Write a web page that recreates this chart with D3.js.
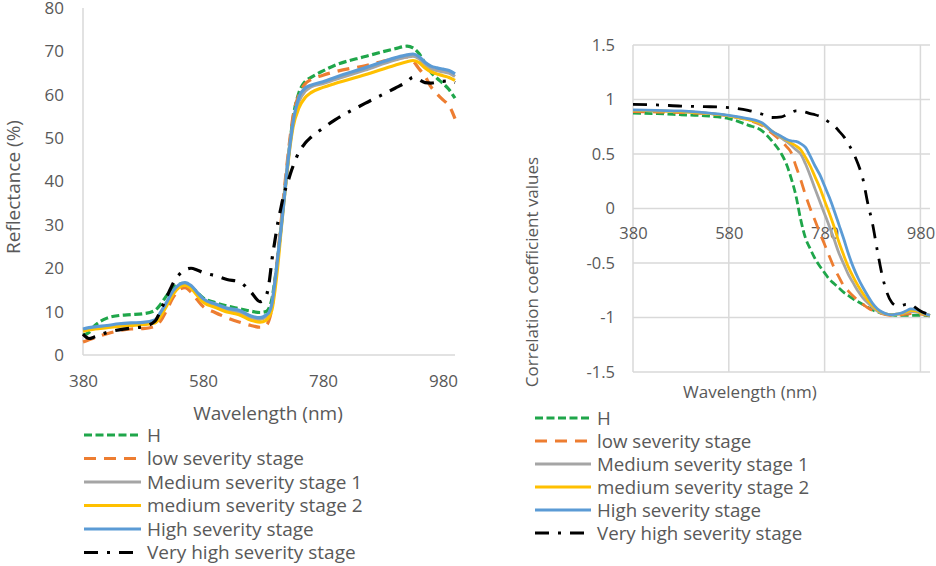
<!DOCTYPE html>
<html>

<head>
  <title>Reflectance and correlation</title>
  <script src="https://d3js.org/d3.v7.min.js"></script>
  <style>
    body {
      margin: 0;
      background: #ffffff;
    }

    text {
      font-family: "Open Sans", sans-serif;
      fill: #595959;
    }
  </style>
</head>

<body>
  <svg id="chart"></svg>
  <script>
    // series order: H, low, Medium 1, medium 2, High, Very high
    const seriesNames = ["H", "low severity stage", "Medium severity stage 1", "medium severity stage 2",
      "High severity stage", "Very high severity stage"]
    const seriesColors = ["#1fa64a", "#ed7d31", "#a5a5a5", "#ffc000", "#5b9bd5", "#000000"]
    const seriesDash = ["8,3.5", "12,8", null, null, null, "14,9,3,9"]

    const xTicks = [380, 580, 780, 980]
    const reflTicks = [0, 10, 20, 30, 40, 50, 60, 70, 80]
    const corrTicks = [-1.5, -1, -0.5, 0, 0.5, 1, 1.5]

    // left chart: reflectance (%)
    const wlRefl = [380, 390, 400, 420, 440, 460, 480, 500, 510, 520, 530, 540, 550, 560, 570, 580, 600, 620, 640, 660,
      675, 685, 690, 695, 700, 705, 710, 715, 720, 725, 730, 740, 750, 760, 780, 800, 850, 900, 920, 930, 940, 950, 960,
      970, 980, 990, 1000]
    const reflH = [4.6, 5.2, 6.8, 8.5, 9.1, 9.3, 9.5, 10.3, 11.8, 13.8, 15.6, 16.3, 16.5, 15.8, 14.5, 13.2, 12.1, 11.3,
      10.7, 10.1, 9.8, 10.0, 10.8, 13, 17.5, 23, 29.5, 36, 42.5, 49, 54.5, 60.5, 63, 64, 65.5, 66.8, 68.8, 70.6, 71.2,
      70.8, 69.5, 67.3, 65.2, 63.8, 62.6, 61.2, 59.2]
    const reflLow = [3.0, 3.5, 4.0, 4.9, 5.6, 6.0, 6.1, 6.6, 8.0, 10.5, 13.2, 15.0, 15.5, 14.5, 12.8, 11.2, 9.8, 8.6, 7.6,
      6.8, 6.4, 6.8, 8.0, 11, 17, 23.5, 30.5, 37.5, 44, 50, 55, 60, 62.5, 63.5, 64.5, 65.3, 66.7, 68.3, 68.7, 67.8, 66.0,
      64.3, 61.8, 60.2, 58.8, 57.5, 54.5]
    const reflMed1 = [5.8, 6.0, 6.3, 6.6, 7.0, 7.2, 7.3, 7.8, 9.6, 12, 14.5, 16, 16.4, 15.7, 14.2, 12.6, 11.4, 10.4, 9.9,
      8.6, 8.2, 8.8, 9.5, 11.2, 16.5, 22.5, 29.5, 36.5, 43, 49, 53.5, 58.5, 60.8, 61.8, 62.6, 63.5, 65.7, 68, 68.7, 68.9,
      68.3, 67, 66, 65.6, 65.3, 65, 64.2]
    const reflMed2 = [5.5, 5.8, 6.0, 6.3, 6.6, 6.8, 7.0, 7.4, 9.0, 11.5, 14.0, 15.6, 16.1, 15.4, 13.8, 12.2, 11.0, 9.9,
      9.3, 8.0, 7.6, 8.0, 8.8, 10.5, 15, 21, 28.5, 35.5, 42, 48, 52.5, 57, 59.3, 60.5, 61.7, 62.6, 64.6, 66.8, 67.6, 67.9,
      67.4, 66.2, 65.3, 64.8, 64.4, 64, 63.3]
    const reflHigh = [6.0, 6.3, 6.5, 6.8, 7.2, 7.4, 7.5, 8.1, 10.0, 12.3, 14.8, 16.2, 16.7, 16.0, 14.5, 13.0, 11.8, 10.8,
      10.3, 9.0, 8.6, 9.2, 9.8, 12, 17, 23, 29, 35.5, 42.5, 48.5, 53.5, 59.5, 61.5, 62.2, 63, 64, 66.2, 68.5, 69.2, 69.4,
      68.8, 67.5, 66.6, 66.2, 65.9, 65.6, 64.8]
    const reflVeryHigh = [4.8, 3.8, 4.2, 5.2, 5.8, 6.2, 6.5, 7.8, 10.5, 13.5, 16.5, 18.5, 19.6, 20.0, 19.6, 19.0, 18.3,
      17.4, 16.9, 14.5, 12.3, 13.5, 16.5, 22, 26.5, 30.7, 34, 37.2, 39.2, 41.5, 43.5, 46.8, 48.8, 50.2, 52.3, 54.2, 58,
      61.5, 63, 64, 63.5, 62.8, 62.7, 62.9, 63.1, 63.2, 62.8]

    // right chart: correlation coefficient values
    const wlCorr = [380, 430, 480, 530, 580, 620, 650, 670, 690, 700, 710, 720, 730, 740, 750, 760, 770, 780, 790, 800,
      810, 820, 830, 840, 850, 860, 870, 880, 890, 900, 910, 920, 930, 940, 950, 960, 970, 980, 990, 1000]
    const corrH = [0.875, 0.87, 0.86, 0.85, 0.825, 0.765, 0.71, 0.62, 0.5, 0.41, 0.28, 0.12, -0.1, -0.27, -0.37, -0.46,
      -0.53, -0.59, -0.65, -0.69, -0.73, -0.77, -0.8, -0.83, -0.855, -0.88, -0.905, -0.93, -0.95, -0.96, -0.97, -0.975,
      -0.98, -0.98, -0.98, -0.98, -0.98, -0.98, -0.98, -0.985]
    const corrLow = [0.89, 0.885, 0.88, 0.87, 0.85, 0.81, 0.76, 0.69, 0.615, 0.57, 0.515, 0.39, 0.265, 0.125, 0.0, -0.11,
      -0.225, -0.33, -0.44, -0.545, -0.63, -0.71, -0.76, -0.805, -0.845, -0.88, -0.91, -0.935, -0.95, -0.965, -0.975,
      -0.98, -0.98, -0.975, -0.97, -0.965, -0.965, -0.97, -0.975, -0.98]
    const corrMed1 = [0.9, 0.895, 0.89, 0.875, 0.85, 0.815, 0.77, 0.705, 0.645, 0.615, 0.58, 0.54, 0.5, 0.41, 0.3, 0.18,
      0.065, -0.05, -0.165, -0.285, -0.41, -0.51, -0.61, -0.685, -0.76, -0.82, -0.865, -0.905, -0.94, -0.96, -0.97,
      -0.975, -0.97, -0.965, -0.955, -0.945, -0.95, -0.96, -0.97, -0.98]
    const corrMed2 = [0.9, 0.895, 0.89, 0.875, 0.85, 0.815, 0.775, 0.71, 0.655, 0.63, 0.6, 0.575, 0.54, 0.47, 0.39, 0.29,
      0.19, 0.07, -0.045, -0.17, -0.31, -0.43, -0.54, -0.63, -0.71, -0.78, -0.84, -0.89, -0.93, -0.955, -0.97, -0.975,
      -0.97, -0.965, -0.95, -0.935, -0.94, -0.955, -0.97, -0.98]
    const corrHigh = [0.905, 0.9, 0.895, 0.88, 0.855, 0.825, 0.785, 0.71, 0.66, 0.635, 0.62, 0.615, 0.595, 0.56, 0.48,
      0.39, 0.31, 0.206, 0.1, -0.02, -0.15, -0.28, -0.42, -0.54, -0.64, -0.725, -0.8, -0.87, -0.92, -0.95, -0.97, -0.975,
      -0.97, -0.96, -0.94, -0.92, -0.925, -0.945, -0.965, -0.98]
    const corrVeryHigh = [0.955, 0.95, 0.94, 0.935, 0.925, 0.9, 0.865, 0.835, 0.84, 0.86, 0.88, 0.895, 0.895, 0.885,
      0.87, 0.86, 0.845, 0.82, 0.79, 0.76, 0.71, 0.66, 0.59, 0.51, 0.405, 0.27, 0.05, -0.14, -0.385, -0.61, -0.77, -0.86,
      -0.89, -0.89, -0.88, -0.88, -0.91, -0.94, -0.96, -0.97]

    const reflSeries = [reflH, reflLow, reflMed1, reflMed2, reflHigh, reflVeryHigh]
    const corrSeries = [corrH, corrLow, corrMed1, corrMed2, corrHigh, corrVeryHigh]

    const svgwidth = 936
    const svgheight = 566
    const svg = d3.select("#chart")
      .attr("width", svgwidth)
      .attr("height", svgheight)

    const gridColor = "#d9d9d9"

    // ---------- left chart ----------
    var x1 = d3.scaleLinear().domain([380, 1000]).range([83, 455])
    var y1 = d3.scaleLinear().domain([0, 80]).range([355, 8])

    svg.append("line")
      .attr("x1", x1(380)).attr("x2", x1(380))
      .attr("y1", y1(80)).attr("y2", y1(0))
      .attr("stroke", gridColor).attr("stroke-width", 1.5)
    svg.append("line")
      .attr("x1", x1(380)).attr("x2", x1(1000))
      .attr("y1", y1(0)).attr("y2", y1(0))
      .attr("stroke", gridColor).attr("stroke-width", 1.5)

    var yAxis1 = svg.append("g")
      .attr("transform", `translate(${x1(380)},0)`)
      .call(d3.axisLeft(y1).tickValues(reflTicks).tickSize(0).tickPadding(19))
    var xAxis1 = svg.append("g")
      .attr("transform", `translate(0,${y1(0)})`)
      .call(d3.axisBottom(x1).tickValues(xTicks).tickSize(0).tickPadding(20).tickFormat(d3.format("d")))
    for (const ax of [yAxis1, xAxis1]) {
      ax.select(".domain").remove()
      ax.selectAll("text").style("font-size", "17px").attr("fill", "#595959")
        .style("font-family", "'Open Sans', sans-serif")
    }

    svg.append("text")
      .attr("x", 268).attr("y", 413).attr("dy", "0.35em")
      .attr("text-anchor", "middle")
      .style("font-size", "19px")
      .text("Wavelength (nm)")
    svg.append("text")
      .attr("transform", "translate(13,187) rotate(-90)")
      .attr("dy", "0.35em")
      .attr("text-anchor", "middle")
      .style("font-size", "19px")
      .text("Reflectance (%)")

    var line1 = d3.line()
      .x((d, i) => x1(wlRefl[i]))
      .y(d => y1(d))
      .curve(d3.curveMonotoneX)

    reflSeries.forEach((s, k) => {
      svg.append("path")
        .datum(s)
        .attr("d", line1)
        .attr("fill", "none")
        .attr("stroke", seriesColors[k])
        .attr("stroke-width", 3.2)
        .attr("stroke-dasharray", seriesDash[k])
    })

    // ---------- right chart ----------
    var x2 = d3.scaleLinear().domain([380, 1000]).range([633, 930])
    var y2 = d3.scaleLinear().domain([-1.5, 1.5]).range([372, 45])

    svg.selectAll(".hgrid")
      .data(corrTicks)
      .enter()
      .append("line")
      .attr("class", "hgrid")
      .attr("x1", x2(380)).attr("x2", x2(1000))
      .attr("y1", d => y2(d)).attr("y2", d => y2(d))
      .attr("stroke", gridColor).attr("stroke-width", 1.5)
    svg.selectAll(".vgrid")
      .data(xTicks)
      .enter()
      .append("line")
      .attr("class", "vgrid")
      .attr("x1", d => x2(d)).attr("x2", d => x2(d))
      .attr("y1", y2(1.5)).attr("y2", y2(-1.5))
      .attr("stroke", gridColor).attr("stroke-width", 1.5)

    var yAxis2 = svg.append("g")
      .attr("transform", `translate(${x2(380)},0)`)
      .call(d3.axisLeft(y2).tickValues(corrTicks).tickSize(0).tickPadding(18).tickFormat(d => String(d)))
    var xAxis2 = svg.append("g")
      .attr("transform", `translate(0,${y2(0)})`)
      .call(d3.axisBottom(x2).tickValues(xTicks).tickSize(0).tickPadding(19).tickFormat(d3.format("d")))
    for (const ax of [yAxis2, xAxis2]) {
      ax.select(".domain").remove()
      ax.selectAll("text").style("font-size", "16.5px").attr("fill", "#595959")
        .style("font-family", "'Open Sans', sans-serif")
    }

    svg.append("text")
      .attr("x", 750).attr("y", 392).attr("dy", "0.35em")
      .attr("text-anchor", "middle")
      .style("font-size", "17px")
      .text("Wavelength (nm)")
    svg.append("text")
      .attr("transform", "translate(532,272) rotate(-90)")
      .attr("dy", "0.35em")
      .attr("text-anchor", "middle")
      .style("font-size", "17px")
      .text("Correlation coefficient values")

    var line2 = d3.line()
      .x((d, i) => x2(wlCorr[i]))
      .y(d => y2(d))
      .curve(d3.curveMonotoneX)

    corrSeries.forEach((s, k) => {
      svg.append("path")
        .datum(s)
        .attr("d", line2)
        .attr("fill", "none")
        .attr("stroke", seriesColors[k])
        .attr("stroke-width", 2.8)
        .attr("stroke-dasharray", seriesDash[k])
    })

    // ---------- legends ----------
    function drawLegend(x0, y0, step, swatchW, fontSize) {
      var g = svg.append("g").attr("transform", `translate(${x0},${y0})`)
      var rows = g.selectAll("g")
        .data(seriesNames)
        .enter()
        .append("g")
        .attr("transform", (d, i) => `translate(0,${i * step})`)
      rows.append("line")
        .attr("x1", 0).attr("x2", swatchW)
        .attr("stroke", (d, i) => seriesColors[i])
        .attr("stroke-width", 3)
        .attr("stroke-dasharray", (d, i) => seriesDash[i])
      rows.append("text")
        .attr("x", swatchW + 6)
        .attr("dy", "0.35em")
        .style("font-size", fontSize + "px")
        .text(d => d)
    }

    drawLegend(84, 435, 23.5, 57, 19)
    drawLegend(535, 418, 23, 56, 18.7)
  </script>
</body>

</html>
